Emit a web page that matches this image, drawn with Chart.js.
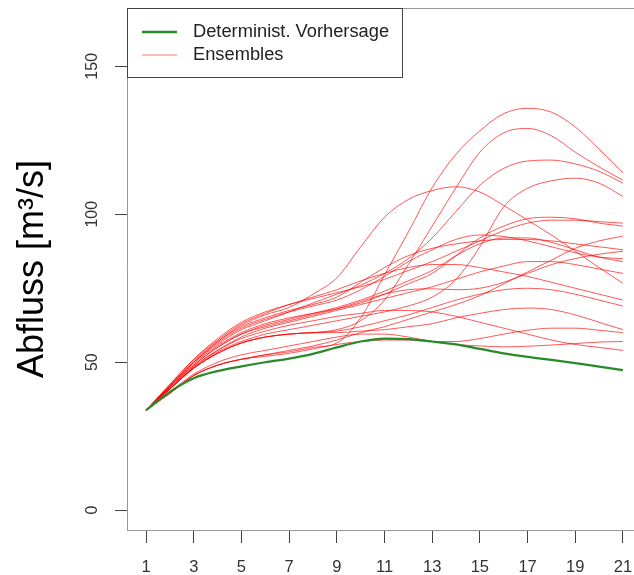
<!DOCTYPE html>
<html><head><meta charset="utf-8">
<script src="https://cdn.jsdelivr.net/npm/chart.js@4/dist/chart.umd.min.js"></script>
<style>html,body{margin:0;padding:0;background:#fff;overflow:hidden}#wrap{position:relative;width:634px;height:575px;overflow:hidden}</style>
</head><body><div id="wrap"><canvas id="c" width="660" height="575"></canvas></div>
<script>
const days = [1,2,3,4,5,6,7,8,9,10,11,12,13,14,15,16,17,18,19,20,21];
const xTicks = [1,3,5,7,9,11,13,15,17,19,21];
const yTicks = [0,50,100,150];
const yTitle = 'Abfluss [m\u00B3/s]';
const legendLabels = ['Determinist. Vorhersage', 'Ensembles'];

const deterministic = [33.8,40.0,44.6,47.0,48.6,50.0,51.2,52.8,55.0,57.0,58.0,57.8,57.0,56.0,54.5,53.0,51.8,50.8,49.7,48.5,47.3];

const ensA = [33.8,39.5,45.5,49,51,52.5,53.5,55,56.5,65,79.5,94,109,120.3,128.2,134,135.8,134.5,129.5,122,114];
const ensB = [33.8,41,48,53,56.5,58.5,59.5,60,61,64,71,83,96,109,121,127.5,129,126.5,121,116,111.5];
const ensC = [33.8,42,50,57,62.5,66,68.5,73,78.5,89,99,105,108,109.3,107.5,103,98,93,87.5,82,76.7];
const ensE = [33.8,42,50,56,61,64,67,70,73,76,80,85,92,101,109.8,115.5,118,118.3,117,114.5,110.5];
const ensF = [33.8,41,48,53.5,57,59.5,61,62.5,64,65.5,67,69,72,78,89,102.5,108.8,111.3,112.2,110.5,106];
const ensG = [33.8,42.5,51,58,63.5,67,69.5,71.5,73.5,75.5,78,81,84,87.5,91,94.5,97,98,98,97.5,97];
const ensH = [33.8,41.5,49.5,55.5,60,63,65,66.5,68,70,73,76.5,80,86,92,96,98.5,99,98.5,97,96];
const ensI = [33.8,39.5,45.5,49,51,52.5,54,55.5,57.5,60,62,64.5,67,69.5,72.5,76.5,80.5,84.5,88.5,91,92.6];
const ensJ = [33.8,42,50.5,57,62,65,67.5,69.5,72,77,82,86,88.5,90,91,91.5,91.5,91,90,89,88];
const ensK = [33.8,42,50,56.5,61.5,64.5,67,69,71,74.5,79,84,88,91.5,93,92.5,91,89,87,85.5,85];
const ensL = [33.8,41.5,49,55,59.5,62.5,64.5,66.5,68.5,71,74,77.5,81,86,90,92,92,90.5,88,85.5,84];
const ensM = [33.8,41,48.5,54,58.5,61.5,63.5,65.5,67.5,69.5,71.5,73.5,75.5,78,80.5,82.5,84,84,83,81.5,80];
const ensN = [33.8,42.5,51,57.5,63,66.5,69.5,72,74.5,77.5,80,82,83,83,82,80.5,79,77,75,73,71];
const ensO = [33.8,41,48,53,56.5,58.5,59.5,60,60.5,62,64,66,68.5,71,73,74.5,75,74.5,73,71,69];
const ensP = [33.8,41,48,53,56.5,58.5,59.5,60,60,60.5,61,62,63,65,66.5,67.8,68.3,67.8,66,63.5,61];
const ensQ = [33.8,41,48.5,54,58,60.5,62.5,64,65.5,66.5,67.5,67.5,67,65.5,63.5,61.5,59.5,57.5,56,55,54];
const ensR = [33.8,39.5,45.5,49,51,52,53,54.5,56,57,57.5,57.5,57,57,58,59.5,60.8,61.5,61.5,60.8,60];
const ensS = [33.8,40,46,50,52.5,54,55.5,57,58.5,59.5,59.5,58.5,57,56,55.5,55.2,55.4,55.8,56.3,56.8,57];
const ensT = [33.8,41.5,49,55,59.5,62,64,66,68,70.5,73,74.5,74.8,74.5,75,77,80,83,85,86.5,87.5];

const ensembles = [ensA,ensB,ensC,ensE,ensF,ensG,ensH,ensI,ensJ,ensK,ensL,ensM,ensN,ensO,ensP,ensQ,ensR,ensS,ensT];

const GREEN = '#2a8a2a';
const RED = 'rgba(255,0,0,0.66)';
const FONT = '"Liberation Sans", Arial, sans-serif';

function toPoints(arr){ return days.map((d,i)=>({x:d, y:arr[i]})); }

const datasets = [{
  label: legendLabels[0], data: toPoints(deterministic), borderColor: GREEN, borderWidth: 2.2,
  pointRadius: 0, cubicInterpolationMode: 'monotone', fill: false
}].concat(ensembles.map((e,k)=>({
  label: legendLabels[1], data: toPoints(e), borderColor: RED, borderWidth: 1,
  pointRadius: 0, cubicInterpolationMode: 'monotone', fill: false
})));

const framePlugin = {
  id: 'frame',
  afterDraw(chart){
    const ctx = chart.ctx, a = chart.chartArea;
    ctx.save();
    ctx.strokeStyle = '#999'; ctx.lineWidth = 1;
    ctx.beginPath(); ctx.moveTo(a.left, a.top + 0.5); ctx.lineTo(a.right, a.top + 0.5); ctx.stroke();
    const ys = chart.scales.y;
    ctx.fillStyle = '#333'; ctx.font = '16px ' + FONT;
    ctx.textAlign = 'center'; ctx.textBaseline = 'middle';
    yTicks.forEach(v => {
      const py = ys.getPixelForValue(v);
      ctx.save(); ctx.translate(93, py); ctx.rotate(-Math.PI/2); ctx.fillText(String(v), 0, 0); ctx.restore();
    });
    const lx = a.left, ly = a.top, lw = 275, lh = 69;
    ctx.fillStyle = '#fff'; ctx.fillRect(lx, ly, lw, lh);
    ctx.strokeStyle = '#444'; ctx.lineWidth = 1;
    ctx.strokeRect(lx + 0.5, ly + 0.5, lw, lh);
    const rows = [{c: GREEN, w: 2.4, y: 32}, {c: 'rgba(255,0,0,0.55)', w: 1, y: 55}];
    rows.forEach((r,i) => {
      ctx.strokeStyle = r.c; ctx.lineWidth = r.w;
      ctx.beginPath(); ctx.moveTo(142, r.y); ctx.lineTo(177, r.y); ctx.stroke();
      ctx.fillStyle = '#222'; ctx.font = '18.3px ' + FONT; ctx.textAlign = 'left'; ctx.textBaseline = 'middle';
      ctx.fillText(legendLabels[i], 193, r.y);
    });
    ctx.restore();
  }
};

new Chart(document.getElementById('c'), {
  type: 'line',
  data: { datasets },
  options: {
    responsive: false, animation: false, devicePixelRatio: 1,
    layout: { padding: { top: 8, right: 18, bottom: 0, left: 0 } },
    plugins: { legend: { display: false }, tooltip: { enabled: false } },
    scales: {
      x: {
        type: 'linear', min: 0.2, max: 21.8,
        afterBuildTicks: s => { s.ticks = xTicks.map(v => ({value: v})); },
        afterFit: s => { s.height = 45; },
        grid: { drawOnChartArea: false, drawTicks: true, tickLength: 13, tickColor: '#444' },
        border: { display: true, color: '#999', width: 1 },
        ticks: { color: '#333', font: { family: FONT, size: 16.5 }, padding: 15, maxRotation: 0, autoSkip: false }
      },
      y: {
        type: 'linear', min: -6.7, max: 169.7,
        afterBuildTicks: s => { s.ticks = yTicks.map(v => ({value: v})); },
        afterFit: s => { s.width = 127; },
        grid: { drawOnChartArea: false, drawTicks: true, tickLength: 12, tickColor: '#444' },
        border: { display: true, color: '#999', width: 1 },
        ticks: { display: false },
        title: { display: true, text: yTitle, color: '#000', font: { family: FONT, size: 36, lineHeight: 1 }, padding: { top: 15, bottom: 0 } }
      }
    }
  },
  plugins: [framePlugin]
});
</script></body></html>
